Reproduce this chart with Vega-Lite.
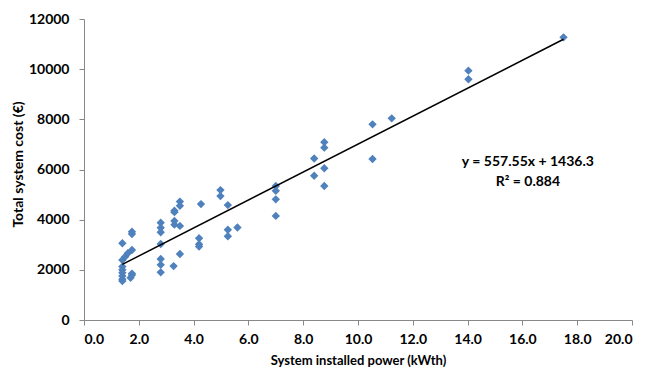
{
  "$schema": "https://vega.github.io/schema/vega-lite/v6.json",
  "width": 548,
  "height": 301,
  "autosize": {"type": "none"},
  "padding": {"left": 84, "top": 19, "right": 18, "bottom": 54},
  "background": "white",
  "config": {
    "view": {"stroke": null},
    "font": "Lato",
    "axis": {
      "grid": false,
      "domainColor": "#888888",
      "tickColor": "#888888",
      "labelColor": "#000000",
      "titleColor": "#000000",
      "labelFont": "Lato",
      "titleFont": "Lato",
      "labelFontWeight": "bold",
      "titleFontWeight": "bold",
      "labelFontSize": 14,
      "titleFontSize": 13,
      "tickSize": 5
    }
  },
  "datasets": {
    "points": [
      {"power": 1.4, "cost": 3060}, {"power": 1.4, "cost": 2390}, {"power": 1.4, "cost": 2130},
      {"power": 1.4, "cost": 2000}, {"power": 1.4, "cost": 1880}, {"power": 1.4, "cost": 1750},
      {"power": 1.4, "cost": 1620}, {"power": 1.4, "cost": 1550},
      {"power": 1.5, "cost": 2520}, {"power": 1.6, "cost": 2660},
      {"power": 1.75, "cost": 3520}, {"power": 1.75, "cost": 3430}, {"power": 1.75, "cost": 2790},
      {"power": 1.75, "cost": 1850}, {"power": 1.75, "cost": 1790}, {"power": 1.7, "cost": 1680},
      {"power": 2.8, "cost": 3880}, {"power": 2.8, "cost": 3680}, {"power": 2.8, "cost": 3500},
      {"power": 2.8, "cost": 3030}, {"power": 2.8, "cost": 2430}, {"power": 2.8, "cost": 2200},
      {"power": 2.8, "cost": 1900},
      {"power": 3.3, "cost": 4360}, {"power": 3.3, "cost": 4300}, {"power": 3.3, "cost": 3950},
      {"power": 3.3, "cost": 3800}, {"power": 3.27, "cost": 2150},
      {"power": 3.5, "cost": 4720}, {"power": 3.5, "cost": 4550}, {"power": 3.5, "cost": 3750},
      {"power": 3.5, "cost": 2630},
      {"power": 4.27, "cost": 4620}, {"power": 4.2, "cost": 3260}, {"power": 4.2, "cost": 3020},
      {"power": 4.2, "cost": 2930},
      {"power": 4.98, "cost": 5180}, {"power": 4.98, "cost": 4940},
      {"power": 5.25, "cost": 4580}, {"power": 5.25, "cost": 3600}, {"power": 5.25, "cost": 3340},
      {"power": 5.6, "cost": 3690},
      {"power": 7.0, "cost": 5340}, {"power": 7.0, "cost": 5150}, {"power": 7.0, "cost": 4810},
      {"power": 7.0, "cost": 4150},
      {"power": 8.4, "cost": 6440}, {"power": 8.4, "cost": 5750},
      {"power": 8.77, "cost": 7090}, {"power": 8.77, "cost": 6870}, {"power": 8.77, "cost": 6050},
      {"power": 8.77, "cost": 5340},
      {"power": 10.53, "cost": 7800}, {"power": 10.53, "cost": 6420},
      {"power": 11.23, "cost": 8040},
      {"power": 14.03, "cost": 9940}, {"power": 14.03, "cost": 9600},
      {"power": 17.5, "cost": 11270}
    ],
    "trend": [
      {"power": 1.4, "cost": 2217},
      {"power": 17.5, "cost": 11193}
    ],
    "labels": [
      {"power": 16.2, "cost": 6300, "text": "y = 557.55x + 1436.3"},
      {"power": 16.2, "cost": 5500, "text": "R² = 0.884"}
    ]
  },
  "layer": [
    {
      "data": {"name": "points"},
      "mark": {"type": "point", "shape": "diamond", "filled": true, "color": "#4F81BD", "opacity": 1, "size": 70},
      "encoding": {
        "x": {
          "field": "power", "type": "quantitative",
          "scale": {"domain": [0, 20], "nice": false, "zero": true},
          "axis": {"values": [0, 2, 4, 6, 8, 10, 12, 14, 16, 18, 20], "format": ".1f", "title": "System installed power (kWth)", "labelPadding": 7, "titlePadding": 8}
        },
        "y": {
          "field": "cost", "type": "quantitative",
          "scale": {"domain": [0, 12000], "nice": false},
          "axis": {"values": [0, 2000, 4000, 6000, 8000, 10000, 12000], "format": "d", "title": "Total system cost (€)", "labelPadding": 10, "titlePadding": 3, "titleY": 145, "titleFontSize": 14}
        }
      }
    },
    {
      "data": {"name": "trend"},
      "mark": {"type": "line", "color": "#000000", "strokeWidth": 1.5},
      "encoding": {
        "x": {"field": "power", "type": "quantitative"},
        "y": {"field": "cost", "type": "quantitative"}
      }
    },
    {
      "data": {"name": "labels"},
      "mark": {"type": "text", "font": "Lato", "fontWeight": "bold", "fontSize": 14, "color": "#000000", "align": "center", "baseline": "middle"},
      "encoding": {
        "x": {"field": "power", "type": "quantitative"},
        "y": {"field": "cost", "type": "quantitative"},
        "text": {"field": "text"}
      }
    }
  ]
}
